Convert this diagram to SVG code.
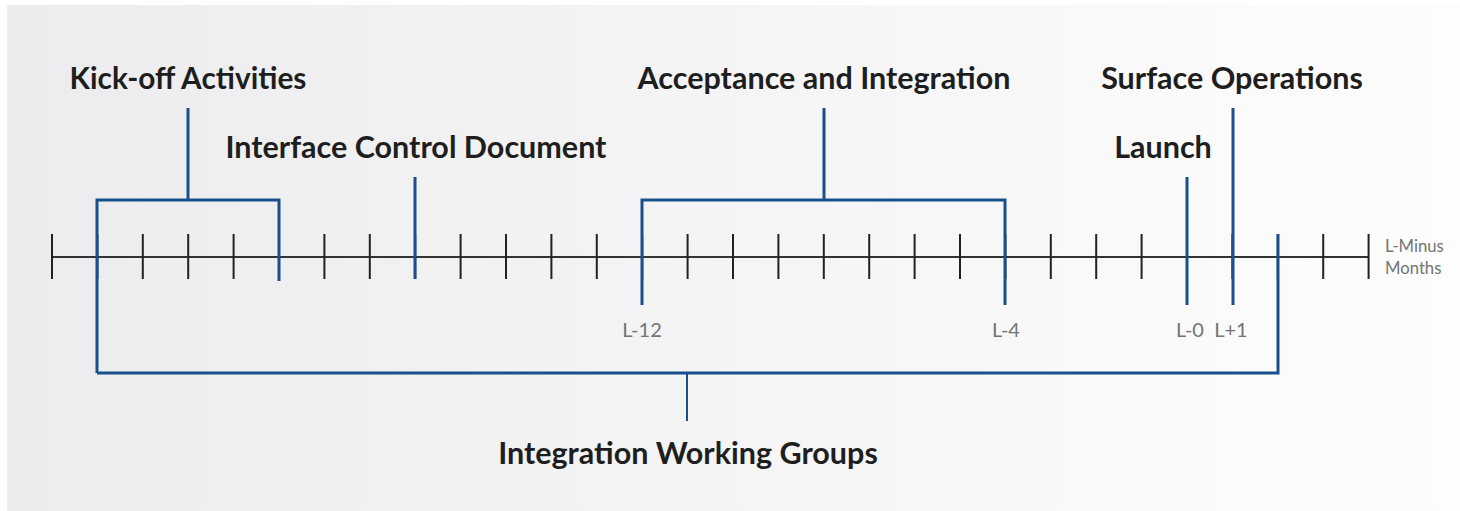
<svg xmlns="http://www.w3.org/2000/svg" width="1460" height="511" viewBox="0 0 1460 511">
<defs>
<linearGradient id="bg" x1="0" y1="0" x2="1" y2="0">
<stop offset="0" stop-color="#ececee"/>
<stop offset="1" stop-color="#fdfdfd"/>
</linearGradient>
<style>
.tick{stroke:#222;stroke-width:2;fill:none}
.axis{stroke:#333;stroke-width:1.8;fill:none}
.blue{stroke:#17508c;stroke-width:3;fill:none;stroke-linecap:butt;stroke-linejoin:miter}
.big{font-family:Lato,"Liberation Sans",sans-serif;font-weight:700;font-size:30.5px;fill:#1e1e1e}
.small{font-family:Lato,"Liberation Sans",sans-serif;font-size:20px;fill:#747474}
.side{font-family:Lato,"Liberation Sans",sans-serif;font-size:16.7px;fill:#747474}
</style>
</defs>
<rect x="0" y="0" width="1460" height="511" fill="#ffffff"/>
<rect x="7" y="5" width="1453" height="506" fill="url(#bg)"/>
<g id="axis">
<line class="axis" x1="52" y1="257" x2="1369" y2="257"/>
<path class="tick" d="M52 234V279M97.4 234V279M142.8 234V279M188.2 234V279M233.6 234V279M279 234V279M324.4 234V279M369.8 234V279M415.2 234V279M460.6 234V279M506 234V279M551.4 234V279M596.8 234V279M642.2 234V279M687.6 234V279M733 234V279M778.4 234V279M823.8 234V279M869.2 234V279M914.6 234V279M960 234V279M1005.4 234V279M1050.8 234V279M1096.2 234V279M1141.6 234V279M1187 234V279M1232.4 234V279M1277.8 234V279M1323.2 234V279M1368.6 234V279"/>
<text class="side" x="1385" y="252">L-Minus</text>
<text class="side" x="1385" y="274">Months</text>
</g>
<g id="connectors">
<path class="blue" d="M188 108V200M97 373V200H279V281"/>
<path class="blue" d="M415 177V279"/>
<path class="blue" d="M824 108V200M642 305V200H1005V305"/>
<path class="blue" d="M1187 177V305"/>
<path class="blue" d="M1233 108V305"/>
<path class="blue" d="M1278 234V373H97"/>
<path class="blue" d="M687 373V421" style="stroke-width:2"/>
</g>
<g id="kickoff"><text class="big" x="188" y="89" text-anchor="middle" style="font-size:29.8px">Kick-off Activities</text></g>
<g id="icd"><text class="big" x="416" y="158" text-anchor="middle">Interface Control Document</text></g>
<g id="acceptance"><text class="big" x="824" y="89" text-anchor="middle">Acceptance and Integration</text></g>
<g id="surface"><text class="big" x="1232" y="89" text-anchor="middle">Surface Operations</text></g>
<g id="launch"><text class="big" x="1163" y="158" text-anchor="middle">Launch</text></g>
<g id="iwg"><text class="big" x="688" y="464" text-anchor="middle">Integration Working Groups</text></g>
<g id="labels">
<text class="small" x="642" y="337" text-anchor="middle">L-12</text>
<text class="small" x="1006" y="337" text-anchor="middle">L-4</text>
<text class="small" x="1190" y="337" text-anchor="middle">L-0</text>
<text class="small" x="1231" y="337" text-anchor="middle">L+1</text>
</g>
</svg>
